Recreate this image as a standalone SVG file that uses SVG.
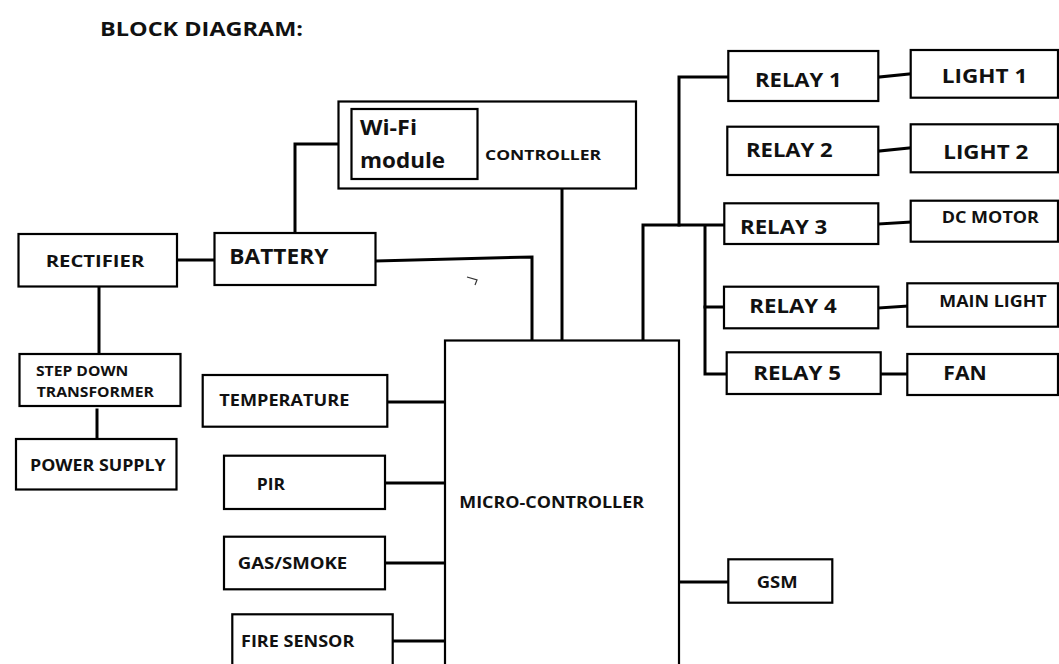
<svg xmlns="http://www.w3.org/2000/svg" width="1059" height="664" viewBox="0 0 1059 664">
<style>
.box{fill:#fff;stroke:#000;stroke-width:2.2}
.t{font-family:"Open Sans","Liberation Sans",sans-serif;font-weight:700;fill:#111}
.c{fill:none;stroke:#000;stroke-width:3;stroke-linejoin:miter;stroke-linecap:square}
</style>
<rect width="1059" height="664" fill="#fff"/>
<text class="t" x="100" y="36" font-size="19.5" textLength="203" lengthAdjust="spacingAndGlyphs">BLOCK DIAGRAM:</text>

<g id="connectors">
<path class="c" d="M338,144 H295 V232"/>
<path class="c" d="M177,260 H214"/>
<path class="c" d="M99,287 V353"/>
<path class="c" d="M97,410 V438"/>
<path class="c" d="M376,261 L532,257 V340"/>
<path class="c" d="M562,189 V340"/>
<path class="c" d="M643,341 V225 H723"/>
<path class="c" d="M679,225 V77 H728"/>
<path class="c" d="M705,227 V374 H726"/>
<path class="c" d="M705,307 H724"/>
<path class="c" d="M879,77 L910,74"/>
<path class="c" d="M879,151 L910,148"/>
<path class="c" d="M879,224 L910,222"/>
<path class="c" d="M879,308 L907,306"/>
<path class="c" d="M881,374 H907"/>
<path class="c" d="M387,402 H445"/>
<path class="c" d="M385,483 H445"/>
<path class="c" d="M385,563 H445"/>
<path class="c" d="M393,641 H445"/>
<path class="c" d="M679,582 H728"/>
<path d="M467,277 L477,280 L475,285" fill="none" stroke="#333" stroke-width="1.2"/>
</g>

<g id="controller">
<rect class="box" x="338.5" y="101.5" width="297.5" height="87"/>
<text class="t" x="485" y="160" font-size="15" textLength="116" lengthAdjust="spacingAndGlyphs">CONTROLLER</text>
</g>
<g id="wifi">
<rect class="box" x="351.5" y="109" width="126" height="70"/>
<text class="t" x="360" y="135" font-size="20.5" textLength="57" lengthAdjust="spacingAndGlyphs">Wi-Fi</text>
<text class="t" x="360" y="168" font-size="20.5" textLength="85" lengthAdjust="spacingAndGlyphs">module</text>
</g>
<g id="rectifier">
<rect class="box" x="18.5" y="234" width="158.5" height="52.5"/>
<text class="t" x="45.7" y="267.3" font-size="16" textLength="98.6" lengthAdjust="spacingAndGlyphs">RECTIFIER</text>
</g>
<g id="battery">
<rect class="box" x="214.5" y="233" width="161" height="52"/>
<text class="t" x="229.3" y="264.3" font-size="21" textLength="99" lengthAdjust="spacingAndGlyphs">BATTERY</text>
</g>
<g id="stepdown">
<rect class="box" x="19.5" y="354" width="161" height="52"/>
<text class="t" x="36" y="375.7" font-size="13.5" textLength="92.3" lengthAdjust="spacingAndGlyphs">STEP DOWN</text>
<text class="t" x="36.7" y="396.7" font-size="13.5" textLength="117.3" lengthAdjust="spacingAndGlyphs">TRANSFORMER</text>
</g>
<g id="power">
<rect class="box" x="16" y="439" width="160.5" height="50.5"/>
<text class="t" x="30" y="470.7" font-size="16" textLength="135.7" lengthAdjust="spacingAndGlyphs">POWER SUPPLY</text>
</g>
<g id="temperature">
<rect class="box" x="202.7" y="375" width="184.6" height="51.7"/>
<text class="t" x="219.3" y="406" font-size="16" textLength="130" lengthAdjust="spacingAndGlyphs">TEMPERATURE</text>
</g>
<g id="pir">
<rect class="box" x="224" y="455.7" width="161" height="53.3"/>
<text class="t" x="256.7" y="490" font-size="16" textLength="28.3" lengthAdjust="spacingAndGlyphs">PIR</text>
</g>
<g id="gas">
<rect class="box" x="224" y="536.7" width="161" height="52.6"/>
<text class="t" x="237.7" y="569" font-size="16" textLength="109.6" lengthAdjust="spacingAndGlyphs">GAS/SMOKE</text>
</g>
<g id="fire">
<rect class="box" x="232.3" y="614.3" width="160.4" height="70"/>
<text class="t" x="241" y="646.7" font-size="16" textLength="113.3" lengthAdjust="spacingAndGlyphs">FIRE SENSOR</text>
</g>
<g id="mcu">
<rect class="box" x="445" y="340.5" width="234" height="340"/>
<text class="t" x="459.3" y="508.3" font-size="16" textLength="184.7" lengthAdjust="spacingAndGlyphs">MICRO-CONTROLLER</text>
</g>
<g id="gsm">
<rect class="box" x="728.3" y="559.3" width="104" height="43.4"/>
<text class="t" x="756.7" y="588.3" font-size="15.5" textLength="41" lengthAdjust="spacingAndGlyphs">GSM</text>
</g>
<g id="relay1">
<rect class="box" x="728.3" y="51" width="150" height="50"/>
<text class="t" x="755" y="86.7" font-size="19.5" textLength="86.7" lengthAdjust="spacingAndGlyphs">RELAY 1</text>
</g>
<g id="relay2">
<rect class="box" x="727.3" y="126.7" width="151" height="48.3"/>
<text class="t" x="746" y="156.7" font-size="19.5" textLength="86.7" lengthAdjust="spacingAndGlyphs">RELAY 2</text>
</g>
<g id="relay3">
<rect class="box" x="724.3" y="203.3" width="154" height="40.7"/>
<text class="t" x="740" y="234.3" font-size="19.5" textLength="87.3" lengthAdjust="spacingAndGlyphs">RELAY 3</text>
</g>
<g id="relay4">
<rect class="box" x="724" y="286.7" width="154.3" height="41.6"/>
<text class="t" x="749.3" y="313.3" font-size="19.5" textLength="87.4" lengthAdjust="spacingAndGlyphs">RELAY 4</text>
</g>
<g id="relay5">
<rect class="box" x="726.7" y="352.3" width="154" height="41.7"/>
<text class="t" x="753.3" y="380" font-size="19.5" textLength="87.7" lengthAdjust="spacingAndGlyphs">RELAY 5</text>
</g>
<g id="light1">
<rect class="box" x="910.7" y="50" width="147.3" height="47.7"/>
<text class="t" x="941.7" y="83.3" font-size="19.5" textLength="85.6" lengthAdjust="spacingAndGlyphs">LIGHT 1</text>
</g>
<g id="light2">
<rect class="box" x="910.7" y="124.3" width="147.3" height="48"/>
<text class="t" x="943.3" y="159" font-size="19.5" textLength="85" lengthAdjust="spacingAndGlyphs">LIGHT 2</text>
</g>
<g id="dcmotor">
<rect class="box" x="910.7" y="200.7" width="147.3" height="41"/>
<text class="t" x="941.7" y="223.3" font-size="15.5" textLength="97.3" lengthAdjust="spacingAndGlyphs">DC MOTOR</text>
</g>
<g id="mainlight">
<rect class="box" x="907.3" y="283.3" width="150.7" height="43.4"/>
<text class="t" x="939.3" y="306.7" font-size="15.5" textLength="107.4" lengthAdjust="spacingAndGlyphs">MAIN LIGHT</text>
</g>
<g id="fan">
<rect class="box" x="907.3" y="354" width="150.7" height="41"/>
<text class="t" x="943.3" y="380" font-size="19.5" textLength="43.4" lengthAdjust="spacingAndGlyphs">FAN</text>
</g>
</svg>
